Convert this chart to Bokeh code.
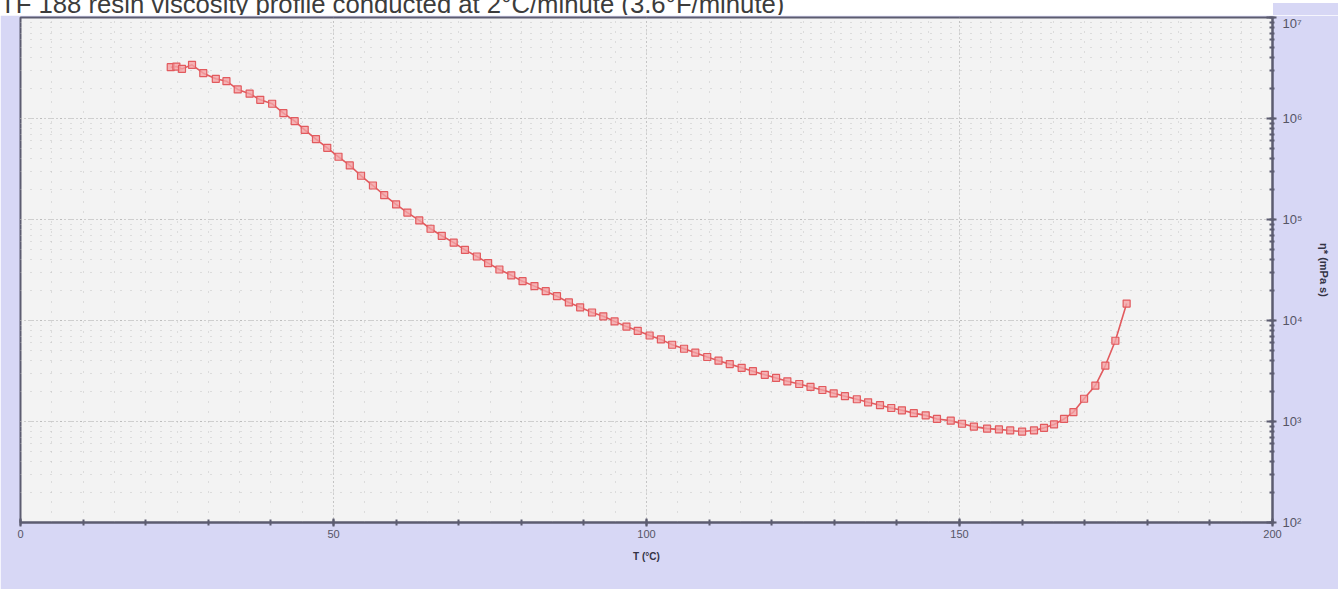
from bokeh.plotting import figure
from bokeh.models import FixedTicker, LogTicker, Div, Legend, LegendItem
from bokeh.layouts import column
from bokeh.embed import file_html
from bokeh.resources import INLINE

title_text = "TF 188 resin viscosity profile conducted at 2°C/minute (3.6°F/minute)"
x_label = "T (°C)"
y_label = "η* (mPa s)"
series_name = "η*"

temperature = [24.0, 24.9, 25.8, 27.4, 29.2, 31.2, 32.9, 34.7, 36.6, 38.3, 40.2, 42.0, 43.8, 45.4,
               47.2, 49.0, 50.8, 52.6, 54.4, 56.3,
               58.1, 60.0, 61.8, 63.7, 65.5, 67.3, 69.2, 71.0, 72.9, 74.7, 76.5, 78.4, 80.2, 82.1,
               83.9, 85.7, 87.6, 89.4, 91.3, 93.1, 94.9, 96.8, 98.6, 100.5, 102.3, 104.1, 106.0,
               107.8, 109.7, 111.5, 113.3, 115.2, 117.0, 118.9, 120.7, 122.5, 124.4, 126.2, 128.1,
               129.9, 131.7, 133.6, 135.4, 137.3, 139.1,
               140.8, 142.7, 144.6, 146.4, 148.6, 150.4, 152.3, 154.4, 156.3, 158.1, 160.0, 161.9,
               163.5, 165.1, 166.7, 168.2, 169.9, 171.7, 173.3, 174.9, 176.7]
viscosity = [3.22e6, 3.27e6, 3.10e6, 3.40e6, 2.81e6, 2.47e6, 2.34e6, 1.94e6, 1.76e6, 1.53e6, 1.40e6,
             1.13e6, 9.40e5, 7.73e5, 6.24e5, 5.13e5, 4.18e5, 3.43e5, 2.71e5, 2.17e5,
             1.74e5, 1.41e5, 1.17e5, 9.8e4, 8.1e4, 6.9e4, 5.9e4, 5.0e4, 4.3e4, 3.7e4, 3.2e4, 2.8e4,
             2.45e4, 2.19e4, 1.95e4, 1.74e4, 1.51e4, 1.35e4, 1.20e4, 1.10e4, 9.8e3, 8.7e3, 7.9e3,
             7.1e3, 6.5e3, 5.75e3, 5.25e3, 4.8e3, 4.35e3, 4.0e3, 3.7e3, 3.4e3, 3.15e3, 2.9e3, 2.7e3,
             2.5e3, 2.35e3, 2.2e3, 2.05e3, 1.9e3, 1.78e3, 1.66e3, 1.55e3, 1.45e3, 1.36e3,
             1.29e3, 1.21e3, 1.15e3, 1.06e3, 1.02e3, 950, 890, 850, 835, 815, 795, 815, 865, 935,
             1.06e3, 1.24e3, 1.68e3, 2.27e3, 3.58e3, 6.3e3, 1.47e4]

x_major_ticks = [0, 50, 100, 150, 200]
x_minor_ticks = list(range(0, 201, 10))
y_tick_labels = {100: "10²", 1000: "10³", 10000: "10⁴", 100000: "10⁵", 1000000: "10⁶", 10000000: "10⁷"}

LAV = "#d7d7f5"
AXC = "#5c5c70"

title_div = Div(
    text=f'<div style="font-family:\'Liberation Sans\',Arial,sans-serif;font-size:25.7px;color:#3c3c3c;'
         f'line-height:26px;margin-top:-9px;white-space:nowrap;">{title_text}</div>',
    width=1338, height=15,
    styles={"overflow": "hidden", "padding": "0", "margin": "0",
            "background": f"linear-gradient(to right, #ffffff 1273px, transparent 1273px), "
                          f"linear-gradient(to bottom, #ffffff 3px, {LAV} 3px)"})

p = figure(width=1338, height=574, x_range=(0, 200), y_range=(100, 1e7), y_axis_type="log",
           y_axis_location="right", output_backend="svg", toolbar_location=None,
           min_border_left=20, min_border_right=66, min_border_top=2, min_border_bottom=67)
p.border_fill_color = LAV
p.background_fill_color = "#f3f3f3"
p.outline_line_color = AXC
p.outline_line_width = 2

# x axis
xa = p.xaxis[0]
xa.ticker = FixedTicker(ticks=x_major_ticks, minor_ticks=x_minor_ticks)
xa.axis_label = x_label
xa.axis_label_text_font = "Liberation Sans"
xa.axis_label_text_font_style = "bold"
xa.axis_label_text_font_size = "10px"
xa.axis_label_text_color = "#333344"
xa.axis_label_standoff = 10
xa.major_label_text_font = "Liberation Sans"
xa.major_label_text_font_size = "11px"
xa.major_label_text_color = "#555566"
xa.major_label_standoff = 3
xa.axis_line_color = AXC
xa.axis_line_width = 2
xa.major_tick_line_color = AXC
xa.minor_tick_line_color = AXC
xa.major_tick_in = 4
xa.major_tick_out = 4
xa.minor_tick_in = 3
xa.minor_tick_out = 3
xa.major_tick_line_width = 2
xa.minor_tick_line_width = 2

# y axis
ya = p.yaxis[0]
ya.ticker = LogTicker(num_minor_ticks=10)
ya.major_label_overrides = y_tick_labels
ya.axis_label = y_label
ya.axis_label_text_font = "Liberation Sans"
ya.axis_label_text_font_style = "bold"
ya.axis_label_text_font_size = "11px"
ya.axis_label_text_color = "#333344"
ya.axis_label_standoff = 12
ya.major_label_text_font = "Liberation Sans"
ya.major_label_text_font_size = "13px"
ya.major_label_text_color = "#555566"
ya.major_label_standoff = 6
ya.axis_line_color = AXC
ya.axis_line_width = 2
ya.major_tick_line_color = AXC
ya.minor_tick_line_color = AXC
ya.major_tick_in = 6
ya.major_tick_out = 4
ya.minor_tick_in = 3
ya.minor_tick_out = 2
ya.major_tick_line_width = 2
ya.minor_tick_line_width = 2

# grids
p.xgrid.ticker = FixedTicker(ticks=[50, 100, 150], minor_ticks=list(range(0, 201, 5)))
p.xgrid.grid_line_color = "#a8a8a8"
p.xgrid.grid_line_dash = "1 3"
p.xgrid.minor_grid_line_color = "#c4c4c4"
p.xgrid.minor_grid_line_dash = "1 9"
p.ygrid.grid_line_color = "#a8a8a8"
p.ygrid.grid_line_dash = "1 3"
p.ygrid.minor_grid_line_color = "#c4c4c4"
p.ygrid.minor_grid_line_dash = "1 9"

RED = "#e25a5e"
ln = p.line(temperature, viscosity, line_color=RED, line_width=1.6)
sc = p.scatter(temperature, viscosity, marker="square", size=7, line_color=RED, line_width=1.2,
               fill_color="#f4a3a5", fill_alpha=0.8)

legend = Legend(items=[LegendItem(label=series_name, renderers=[ln, sc])], location=(2, -71),
                background_fill_color=LAV, border_line_color="#555566", border_line_width=1.5,
                label_text_font="Liberation Sans", label_text_font_size="11px",
                label_text_color="#333344", glyph_width=26, glyph_height=14, padding=3,
                margin=0, label_standoff=4)
p.add_layout(legend, "center")

layout = column(title_div, p, spacing=0)
open("out.html", "w").write(file_html(layout, INLINE))
